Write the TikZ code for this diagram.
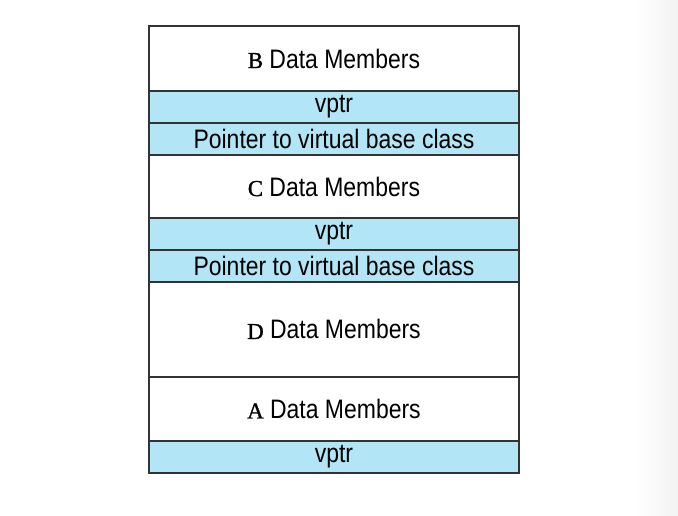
\documentclass[tikz,border=0pt]{standalone}
\usepackage{fontspec}
\setmainfont{Liberation Sans}[FakeStretch=0.86]
\newfontfamily\classfont{Liberation Serif}[FakeBold=1.2]
\usepackage{tikz}
\usetikzlibrary{positioning}

\definecolor{ptrblue}{RGB}{178,229,245}
\newcommand{\clsname}[1]{{\classfont\fontsize{13}{15}\selectfont #1}}

\begin{document}
\begin{tikzpicture}[x=0.02cm, y=-0.02cm,
	member/.style={draw=black!80, line width=1pt, fill=white, minimum width=7.4cm,
		inner sep=0pt, outer sep=0pt, font=\fontsize{15.2}{17}\selectfont},
	ptr/.style={member, fill=ptrblue, minimum height=0.64cm}]

\useasboundingbox (0,0) rectangle (678,515);
\fill[white] (0,0) rectangle (678,515);
\shade[left color=white, right color=black!5] (635,0) rectangle (678,515);

% B subobject
\node[member, minimum height=1.30cm, anchor=north west] (bdata) at (149,26) {\clsname{B} Data Members};
\node[ptr, below=0pt of bdata] (bvptr) {vptr};
\node[ptr, below=0pt of bvptr] (bvbase) {Pointer to virtual base class};

% C subobject
\node[member, minimum height=1.26cm, below=0pt of bvbase] (cdata) {\clsname{C} Data Members};
\node[ptr, below=0pt of cdata] (cvptr) {vptr};
\node[ptr, below=0pt of cvptr] (cvbase) {Pointer to virtual base class};

% D itself
\node[member, minimum height=1.90cm, below=0pt of cvbase] (ddata) {\clsname{D} Data Members};

% shared A
\node[member, minimum height=1.28cm, below=0pt of ddata] (adata) {\clsname{A} Data Members};
\node[ptr, below=0pt of adata] (avptr) {vptr};

\end{tikzpicture}
\end{document}
